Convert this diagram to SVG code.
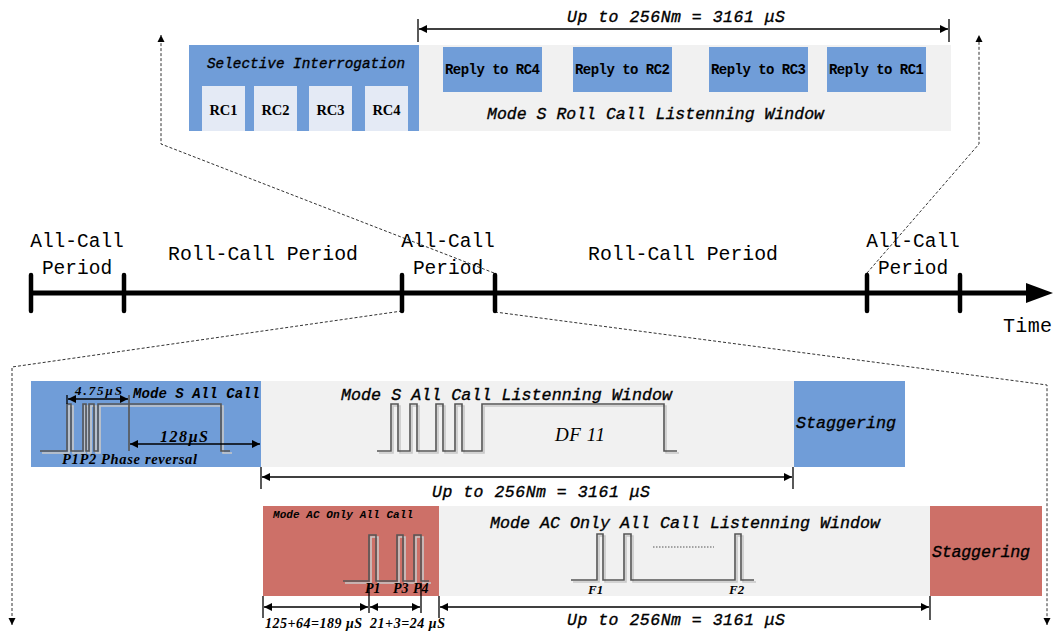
<svg xmlns="http://www.w3.org/2000/svg" width="1054" height="634" viewBox="0 0 1054 634">
<defs>
<style>
.blue{fill:#709dd8}
.grey{fill:#f1f1f1}
.red{fill:#cd7068}
.rc{fill:#e4eaf5}
.mono{font-family:"Liberation Mono","DejaVu Sans Mono",monospace;fill:#000}
.it{font-style:italic}
.b{font-weight:bold}
.serif{font-family:"Liberation Serif","DejaVu Serif",serif;fill:#000}
.axis{stroke:#000;stroke-width:5}
.tick{stroke:#000;stroke-width:4.5;stroke-linecap:round}
.dim{stroke:#000;stroke-width:1.3;fill:none}
.dash{stroke:#333;stroke-width:1;stroke-dasharray:3,2;fill:none}
.wave{stroke:#555;stroke-width:1.6;fill:none}
.shadow{stroke:#c8c8c8;stroke-width:1.6;fill:none}
.heavy{stroke:#000;stroke-width:0.35}
</style>
<marker id="ah" viewBox="0 0 10 10" refX="10" refY="5" markerWidth="10" markerHeight="8" markerUnits="userSpaceOnUse" orient="auto-start-reverse">
<path d="M0,0 L10,5 L0,10 z" fill="#000"/>
</marker>
<marker id="dh" viewBox="0 0 10 10" refX="10" refY="5" markerWidth="7" markerHeight="9" markerUnits="userSpaceOnUse" orient="auto">
<path d="M0,0 L10,5 L0,10 z" fill="#000"/>
</marker>
</defs>
<rect width="1054" height="634" fill="#fff"/>

<!-- connectors (dashed zoom lines) -->
<g id="connectors">
<polyline class="dash" points="494,273 161,144 161,35" marker-end="url(#dh)"/>
<polyline class="dash" points="867,273 979,144 979,35" marker-end="url(#dh)"/>
<polyline class="dash" points="402,311 12,367 12,625" marker-end="url(#dh)"/>
<polyline class="dash" points="495,312 1047,385 1047,625" marker-end="url(#dh)"/>
</g>

<!-- top roll-call block -->
<g id="selective-interrogation">
<rect class="blue" x="189" y="45" width="230" height="86"/>
<text class="mono it heavy" x="207" y="68" font-size="14.3" textLength="198">Selective Interrogation</text>
</g>
<g id="rc1"><rect class="rc" x="202" y="86" width="43" height="45"/><text class="serif b" x="223.5" y="115" font-size="14.5" text-anchor="middle">RC1</text></g>
<g id="rc2"><rect class="rc" x="254" y="86" width="43" height="45"/><text class="serif b" x="275.5" y="115" font-size="14.5" text-anchor="middle">RC2</text></g>
<g id="rc3"><rect class="rc" x="309" y="86" width="43" height="45"/><text class="serif b" x="330.5" y="115" font-size="14.5" text-anchor="middle">RC3</text></g>
<g id="rc4"><rect class="rc" x="365" y="86" width="43" height="45"/><text class="serif b" x="386.5" y="115" font-size="14.5" text-anchor="middle">RC4</text></g>
<g id="rollcall-window">
<rect class="grey" x="419" y="45" width="532" height="86"/>
<text class="mono it heavy" x="487" y="119" font-size="16.5" textLength="337">Mode S Roll Call Listenning Window</text>
</g>
<g id="reply-rc4"><rect class="blue" x="443" y="47" width="99" height="45"/><text class="mono b" x="445" y="74" font-size="14" textLength="95">Reply to RC4</text></g>
<g id="reply-rc2"><rect class="blue" x="573" y="47" width="99" height="45"/><text class="mono b" x="575" y="74" font-size="14" textLength="95">Reply to RC2</text></g>
<g id="reply-rc3"><rect class="blue" x="709" y="47" width="99" height="45"/><text class="mono b" x="711" y="74" font-size="14" textLength="95">Reply to RC3</text></g>
<g id="reply-rc1"><rect class="blue" x="827" y="47" width="99" height="45"/><text class="mono b" x="829" y="74" font-size="14" textLength="95">Reply to RC1</text></g>
<g id="top-dimension">
<line class="dim" x1="418" y1="19" x2="418" y2="42"/>
<line class="dim" x1="949" y1="19" x2="949" y2="42"/>
<line class="dim" x1="419" y1="29" x2="948" y2="29" marker-start="url(#ah)" marker-end="url(#ah)"/>
<text class="mono it heavy" x="567" y="22" font-size="16.5" textLength="218">Up to 256Nm = 3161 μS</text>
</g>

<!-- time axis -->
<g id="time-axis">
<line class="axis" x1="31" y1="293" x2="1030" y2="293"/>
<polygon points="1026,283 1053,293 1026,303" fill="#000"/>
<line class="tick" x1="31" y1="275" x2="31" y2="311"/>
<line class="tick" x1="124" y1="275" x2="124" y2="311"/>
<line class="tick" x1="402" y1="275" x2="402" y2="311"/>
<line class="tick" x1="495" y1="275" x2="495" y2="311"/>
<line class="tick" x1="867" y1="275" x2="867" y2="311"/>
<line class="tick" x1="960" y1="275" x2="960" y2="311"/>
<text class="mono" x="1003" y="332" font-size="20" textLength="49">Time</text>
</g>
<g id="allcall-1">
<text class="mono" x="77" y="247" font-size="19.5" text-anchor="middle">All-Call</text>
<text class="mono" x="77" y="274" font-size="19.5" text-anchor="middle">Period</text>
</g>
<g id="rollcall-1"><text class="mono" x="263" y="260" font-size="19.8" text-anchor="middle">Roll-Call Period</text></g>
<g id="allcall-2">
<text class="mono" x="448" y="247" font-size="19.5" text-anchor="middle">All-Call</text>
<text class="mono" x="448" y="274" font-size="19.5" text-anchor="middle">Period</text>
</g>
<g id="rollcall-2"><text class="mono" x="683" y="260" font-size="19.8" text-anchor="middle">Roll-Call Period</text></g>
<g id="allcall-3">
<text class="mono" x="913" y="247" font-size="19.5" text-anchor="middle">All-Call</text>
<text class="mono" x="913" y="274" font-size="19.5" text-anchor="middle">Period</text>
</g>

<!-- Mode S all call row -->
<g id="modes-allcall">
<rect class="blue" x="31" y="381" width="230" height="86"/>
<path class="shadow" transform="translate(2,2)" d="M40,451 H67 V404 H71 V451 H83 V404 H86 V451 H89 V404 H94 V451 H98 V404 H221 V451 H230"/>
<path class="wave" d="M40,451 H67 V404 H71 V451 H83 V404 H86 V451 H89 V404 H94 V451 H98 V404 H221 V451 H230"/>
<line class="dim" x1="67" y1="395" x2="67" y2="404"/>
<line class="wave" x1="129" y1="395" x2="129" y2="451"/>
<line class="dim" x1="68" y1="399" x2="128" y2="399" marker-start="url(#ah)" marker-end="url(#ah)"/>
<text class="serif b it" x="75" y="395" font-size="13" textLength="47">4.75μS</text>
<text class="mono it b" x="133" y="398" font-size="14" textLength="127">Mode S All Call</text>
<line class="dim" x1="130" y1="444" x2="260" y2="444" marker-start="url(#ah)" marker-end="url(#ah)"/>
<text class="serif b it" x="160" y="442" font-size="16" textLength="48">128μS</text>
<text class="serif b it" x="62" y="464" font-size="14.5" textLength="135">P1P2 Phase reversal</text>
</g>
<g id="modes-window">
<rect class="grey" x="261" y="381" width="533" height="86"/>
<text class="mono it heavy" x="341" y="400" font-size="16.7" textLength="331">Mode S All Call Listenning Window</text>
<path class="shadow" transform="translate(2,2)" d="M377,451 H391 V404 H398 V451 H410 V404 H417 V451 H436 V404 H443 V451 H455 V404 H462 V451 H482 V404 H664 V451 H677"/>
<path class="wave" d="M377,451 H391 V404 H398 V451 H410 V404 H417 V451 H436 V404 H443 V451 H455 V404 H462 V451 H482 V404 H664 V451 H677"/>
<text class="serif it" x="555" y="441" font-size="19" textLength="50">DF 11</text>
</g>
<g id="modes-staggering">
<rect class="blue" x="794" y="381" width="111" height="86"/>
<text class="mono it heavy" x="796" y="428" font-size="16.7" textLength="100">Staggering</text>
</g>
<g id="modes-dimension">
<line class="dim" x1="261" y1="467" x2="261" y2="489"/>
<line class="dim" x1="793" y1="467" x2="793" y2="489"/>
<line class="dim" x1="262" y1="477" x2="792" y2="477" marker-start="url(#ah)" marker-end="url(#ah)"/>
<text class="mono it heavy" x="432" y="497" font-size="16.5" textLength="218">Up to 256Nm = 3161 μS</text>
</g>

<!-- Mode AC only all call row -->
<g id="modeac-allcall">
<rect class="red" x="263" y="506" width="176" height="90"/>
<text class="mono b it" x="273" y="518" font-size="11" textLength="140">Mode AC Only All Call</text>
<path class="shadow" transform="translate(2,2)" d="M343,581 H369 V535 H376 V581 H397 V535 H403 V581 H414 V535 H421 V581 H429"/>
<path class="wave" d="M343,581 H369 V535 H376 V581 H397 V535 H403 V581 H414 V535 H421 V581 H429"/>
<text class="serif b it" x="365" y="593" font-size="14">P1</text>
<text class="serif b it" x="393" y="593" font-size="14">P3</text>
<text class="serif b it" x="413" y="593" font-size="14">P4</text>
</g>
<g id="modeac-window">
<rect class="grey" x="439" y="506" width="491" height="90"/>
<text class="mono it heavy" x="490" y="528" font-size="16.7" textLength="390">Mode AC Only All Call Listenning Window</text>
<path class="shadow" transform="translate(2,2)" d="M571,580 H597 V534 H603 V580 H624 V534 H631 V580 H735 V534 H741 V580 H754"/>
<path class="wave" d="M571,580 H597 V534 H603 V580 H624 V534 H631 V580 H735 V534 H741 V580 H754"/>
<line x1="653" y1="547" x2="714" y2="547" stroke="#555" stroke-width="1" stroke-dasharray="1.5,1.5"/>
<text class="serif b it" x="588" y="594" font-size="13">F1</text>
<text class="serif b it" x="729" y="594" font-size="13">F2</text>
</g>
<g id="modeac-staggering">
<rect class="red" x="930" y="506" width="112" height="90"/>
<text class="mono it heavy" x="932" y="557" font-size="16.7" textLength="98">Staggering</text>
</g>
<g id="modeac-dimensions">
<line class="dim" x1="263" y1="596" x2="263" y2="618"/>
<line class="dim" x1="369" y1="583" x2="369" y2="613"/>
<line class="dim" x1="421" y1="583" x2="421" y2="613"/>
<line class="dim" x1="439" y1="596" x2="439" y2="618"/>
<line class="dim" x1="930" y1="596" x2="930" y2="620"/>
<line class="dim" x1="264" y1="607" x2="368" y2="607" marker-start="url(#ah)" marker-end="url(#ah)"/>
<line class="dim" x1="370" y1="607" x2="420" y2="607" marker-start="url(#ah)" marker-end="url(#ah)"/>
<line class="dim" x1="440" y1="607" x2="929" y2="607" marker-start="url(#ah)" marker-end="url(#ah)"/>
<text class="serif b it" x="265" y="628" font-size="14" textLength="97">125+64=189 μS</text>
<text class="serif b it" x="370" y="628" font-size="14" textLength="75">21+3=24 μS</text>
<text class="mono it heavy" x="567" y="625" font-size="16.5" textLength="218">Up to 256Nm = 3161 μS</text>
</g>
</svg>
